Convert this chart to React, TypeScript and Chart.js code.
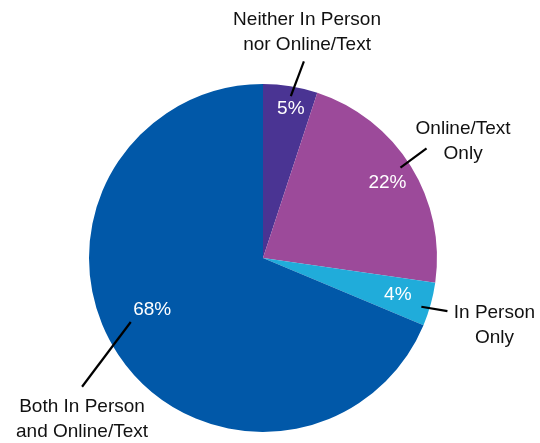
import React, { useEffect, useRef } from "react";
import { Chart, registerables } from "chart.js";

Chart.register(...registerables);

const categories = [
  "Neither In Person nor Online/Text",
  "Online/Text Only",
  "In Person Only",
  "Both In Person and Online/Text",
];
const values = [5, 22, 4, 68];
const percentLabels = ["5%", "22%", "4%", "68%"];
const labelLines = [
  ["Neither In Person", "nor Online/Text"],
  ["Online/Text", "Only"],
  ["In Person", "Only"],
  ["Both In Person", "and Online/Text"],
];
const colors = ["#4A3493", "#9C4A9A", "#20ACDA", "#0158A8"];

// layout in units of pie radius relative to center (x right, y down)
const pctPos = [
  [0.16, -0.855],
  [0.715, -0.43],
  [0.775, 0.21],
  [-0.637, 0.3],
];
const leaderLines = [
  [[0.235, -1.13], [0.16, -0.93]],
  [[0.94, -0.63], [0.79, -0.52]],
  [[0.91, 0.28], [1.06, 0.305]],
  [[-0.76, 0.368], [-1.04, 0.74]],
];
const textPos = [
  [0.253, -1.37],
  [1.15, -0.745],
  [1.33, 0.315],
  [-1.04, 0.855],
];

const labelPlugin = {
  id: "calloutLabels",
  afterDatasetsDraw(chart: any) {
    const meta = chart.getDatasetMeta(0);
    const arc = meta.data[0];
    if (!arc) return;
    const cx = arc.x;
    const cy = arc.y;
    const r = arc.outerRadius;
    const ctx = chart.ctx;
    ctx.save();
    ctx.textAlign = "center";
    ctx.textBaseline = "middle";
    ctx.fillStyle = "#ffffff";
    ctx.font = "19px 'Liberation Sans', Arial, sans-serif";
    percentLabels.forEach((t, i) => {
      ctx.fillText(t, cx + pctPos[i][0] * r, cy + pctPos[i][1] * r);
    });
    ctx.strokeStyle = "#000000";
    ctx.lineWidth = 2.2;
    leaderLines.forEach((l) => {
      ctx.beginPath();
      ctx.moveTo(cx + l[0][0] * r, cy + l[0][1] * r);
      ctx.lineTo(cx + l[1][0] * r, cy + l[1][1] * r);
      ctx.stroke();
    });
    ctx.fillStyle = "#111111";
    ctx.font = "19px 'Liberation Sans', Arial, sans-serif";
    labelLines.forEach((lines, i) => {
      const x = cx + textPos[i][0] * r;
      const y = cy + textPos[i][1] * r;
      lines.forEach((line, j) => {
        ctx.fillText(line, x, y + j * 25);
      });
    });
    ctx.restore();
  },
};

export default function App() {
  const ref = useRef<HTMLCanvasElement | null>(null);
  useEffect(() => {
    if (!ref.current) return;
    const chart = new Chart(ref.current, {
      type: "pie",
      data: {
        labels: categories,
        datasets: [
          {
            data: values,
            backgroundColor: colors,
            borderWidth: 0,
          },
        ],
      },
      options: {
        animation: false,
        responsive: false,
        maintainAspectRatio: false,
        layout: { padding: { left: 89, right: 103, top: 84, bottom: 11 } },
        plugins: {
          legend: { display: false },
          tooltip: { enabled: false },
        },
      },
      plugins: [labelPlugin],
    });
    return () => chart.destroy();
  }, []);
  return (
    <div style={{ position: "fixed", left: 0, top: 0, width: 540, height: 443, background: "#fff" }}>
      <canvas ref={ref} width={540} height={443} style={{ width: 540, height: 443 }} />
    </div>
  );
}
